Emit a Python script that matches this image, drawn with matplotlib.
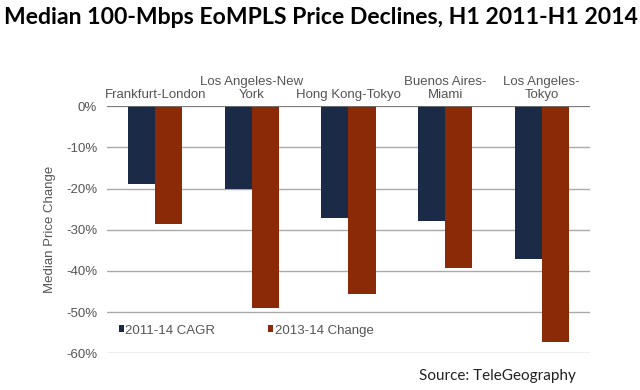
import matplotlib
matplotlib.use("Agg")
import matplotlib.pyplot as plt
import numpy as np
from matplotlib.ticker import FuncFormatter

routes = ["Frankfurt-London", "Los Angeles-New\nYork", "Hong Kong-Tokyo", "Buenos Aires-\nMiami", "Los Angeles-\nTokyo"]
cagr = [-18.8, -20.0, -27.1, -27.9, -37.0]
change = [-28.5, -48.9, -45.6, -39.2, -57.2]
yticks = [0, -10, -20, -30, -40, -50, -60]

navy = "#1b2a47"
rust = "#8a2a06"
gray = "#555555"

plt.rcParams["font.family"] = ["Liberation Sans", "DejaVu Sans"]

fig = plt.figure(figsize=(6.4, 3.9), dpi=100)
ax = fig.add_axes([0.167, 0.094, 0.755, 0.634])

x = np.arange(len(routes))
w = 0.28
ax.bar(x - w/2, cagr, w, color=navy, label="2011-14 CAGR", zorder=3)
ax.bar(x + w/2, change, w, color=rust, label="2013-14 Change", zorder=3)

ax.set_xlim(-0.5, len(routes) - 0.5)
ax.set_ylim(-60, 0)
ax.set_yticks(yticks)
ax.yaxis.set_major_formatter(FuncFormatter(lambda v, p: f"{int(v)}%"))
ax.grid(axis="y", color="#aaaaaa", linewidth=1.0, zorder=0)
ax.axhline(0, color="#777777", linewidth=1.2, zorder=4)
for s in ax.spines.values():
    s.set_visible(False)
ax.tick_params(axis="y", length=0, labelsize=9.5, labelcolor=gray, pad=7)

ax.xaxis.tick_top()
ax.set_xticks(x)
ax.set_xticklabels(routes, fontsize=9.5, color=gray, linespacing=1.05)
ax.tick_params(axis="x", length=0, pad=4)

ax.set_ylabel("Median Price Change", fontsize=9.5, color=gray, labelpad=7)

leg = ax.legend(loc="lower left", bbox_to_anchor=(0.0, 0.02), ncol=2, frameon=False,
                fontsize=9.5, handlelength=0.4, handleheight=0.4, handletextpad=0.1,
                columnspacing=4.0, labelcolor=gray)

fig.text(0.006, 0.955, "Median 100-Mbps EoMPLS Price Declines, H1 2011-H1 2014",
         fontsize=16.6, fontweight="bold", family="Lato", ha="left", va="center")
fig.text(0.9, 0.035, "Source: TeleGeography", fontsize=11, family="Lato",
         ha="right", va="center", color="#222222")

fig.savefig("out.png", dpi=100)
